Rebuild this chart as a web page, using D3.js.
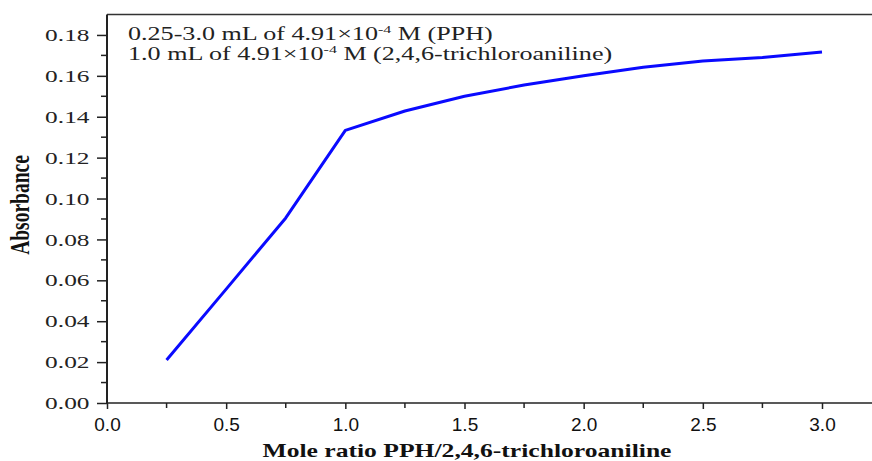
<!DOCTYPE html>
<html>
<head>
<meta charset="utf-8">
<script src="https://cdn.jsdelivr.net/npm/d3@7"></script>
<style>
  html, body { margin: 0; padding: 0; background: #fff; }
  svg { display: block; }
</style>
</head>
<body>
<svg id="chart" width="872" height="461"></svg>
<script>
// ---- data ----
const moleRatio = [0.25, 0.5, 0.75, 1.0, 1.25, 1.5, 1.75, 2.0, 2.25, 2.5, 2.75, 3.0];
const absorbance = [0.021, 0.0557, 0.0905, 0.1333, 0.1428, 0.150, 0.1555, 0.160, 0.1642, 0.1673, 0.169, 0.1717];
const xTicks = [0, 0.5, 1.0, 1.5, 2.0, 2.5, 3.0];
const xMinorTicks = [0.25, 0.75, 1.25, 1.75, 2.25, 2.75, 3.25];
const yTicks = [0, 0.02, 0.04, 0.06, 0.08, 0.10, 0.12, 0.14, 0.16, 0.18];
const yMinorTicks = [0.01, 0.03, 0.05, 0.07, 0.09, 0.11, 0.13, 0.15, 0.17];
const xTitle = "Mole ratio PPH/2,4,6-trichloroaniline";
const yTitle = "Absorbance";

(function () {
const svg = d3.select("#chart");
const W = 872, H = 461;
const mLeft = 107, mBottom = 403, mTop = 14.5;
const stretch = 1.45; // the reference's serif text is horizontally stretched
const serif = "'Liberation Serif', 'Times New Roman', serif";

const x = d3.scaleLinear().domain([0, 3.0]).range([mLeft, 822]);
const y = d3.scaleLinear().domain([0, 0.19]).range([mBottom, mTop]);

// top frame line
svg.append("line")
  .attr("x1", mLeft).attr("x2", W).attr("y1", mTop).attr("y2", mTop)
  .attr("stroke", "#333").attr("stroke-width", 1.5);

// X axis
const xAxis = svg.append("g").attr("transform", `translate(0,${mBottom})`)
  .call(d3.axisBottom(x).tickValues(xTicks).tickFormat(d3.format(".1f")).tickSize(6).tickSizeOuter(0));
xAxis.select(".domain").remove();
xAxis.append("line").attr("x1", mLeft).attr("x2", W).attr("y1", 0).attr("y2", 0)
  .attr("stroke", "#222").attr("stroke-width", 1.5);
xAxis.selectAll(".tick line").attr("stroke", "#222").attr("stroke-width", 1.5);
xAxis.selectAll(".tick text")
  .attr("font-family", "'Liberation Sans', Arial, sans-serif")
  .attr("font-size", 19).attr("fill", "#111").attr("dy", "1.0em");
xAxis.selectAll(".minor").data(xMinorTicks.filter(d => x(d) < W)).enter()
  .append("line").attr("class", "minor")
  .attr("x1", d => x(d)).attr("x2", d => x(d)).attr("y1", 0).attr("y2", 5)
  .attr("stroke", "#222").attr("stroke-width", 1.5);

// Y axis
const yAxis = svg.append("g").attr("transform", `translate(${mLeft},0)`)
  .call(d3.axisLeft(y).tickValues(yTicks).tickFormat(d3.format(".2f")).tickSize(10).tickSizeOuter(0));
yAxis.select(".domain").remove();
yAxis.append("line").attr("x1", 0).attr("x2", 0).attr("y1", mBottom + 1).attr("y2", mTop)
  .attr("stroke", "#222").attr("stroke-width", 2);
yAxis.selectAll(".tick line").attr("stroke", "#222").attr("stroke-width", 1.5);
yAxis.selectAll(".tick text")
  .attr("x", 0)
  .attr("transform", `translate(-17.5,0) scale(${stretch},1)`)
  .attr("font-family", serif)
  .attr("font-size", 17.5).attr("fill", "#222");
yAxis.selectAll(".minor").data(yMinorTicks).enter()
  .append("line").attr("class", "minor")
  .attr("x1", -6).attr("x2", 0).attr("y1", d => y(d)).attr("y2", d => y(d))
  .attr("stroke", "#222").attr("stroke-width", 1.5);

// Axis titles
svg.append("text")
  .attr("x", 467).attr("y", 457)
  .attr("text-anchor", "middle")
  .attr("font-family", serif)
  .attr("font-weight", "bold").attr("font-size", 19.5).attr("fill", "#111")
  .attr("textLength", 409).attr("lengthAdjust", "spacingAndGlyphs")
  .text(xTitle);

svg.append("text")
  .attr("transform", `translate(29,205) scale(${stretch},1) rotate(-90)`)
  .attr("text-anchor", "middle")
  .attr("font-family", serif)
  .attr("font-weight", "bold").attr("font-size", 19.5).attr("fill", "#111")
  .text(yTitle);

// Annotation
const ann = svg.append("g")
  .attr("font-family", serif)
  .attr("font-size", 18).attr("fill", "#222");
const t1 = ann.append("text").attr("x", 0).attr("y", 0)
  .attr("transform", `translate(128,40) scale(${stretch},1)`);
t1.append("tspan").text("0.25-3.0 mL of 4.91×10");
t1.append("tspan").attr("font-size", 11).attr("dy", -7).text("-4");
t1.append("tspan").attr("dy", 7).text(" M (PPH)");
const t2 = ann.append("text").attr("x", 0).attr("y", 0)
  .attr("transform", `translate(128,60) scale(${stretch},1)`);
t2.append("tspan").text("1.0 mL of 4.91×10");
t2.append("tspan").attr("font-size", 11).attr("dy", -7).text("-4");
t2.append("tspan").attr("dy", 7).text(" M (2,4,6-trichloroaniline)");

// Data line
const line = d3.line().x((d, i) => x(moleRatio[i])).y(d => y(d));
svg.append("path")
  .datum(absorbance)
  .attr("d", line)
  .attr("fill", "none")
  .attr("stroke", "#0a0aff")
  .attr("stroke-width", 3)
  .attr("stroke-linejoin", "round");
})();
</script>
</body>
</html>
